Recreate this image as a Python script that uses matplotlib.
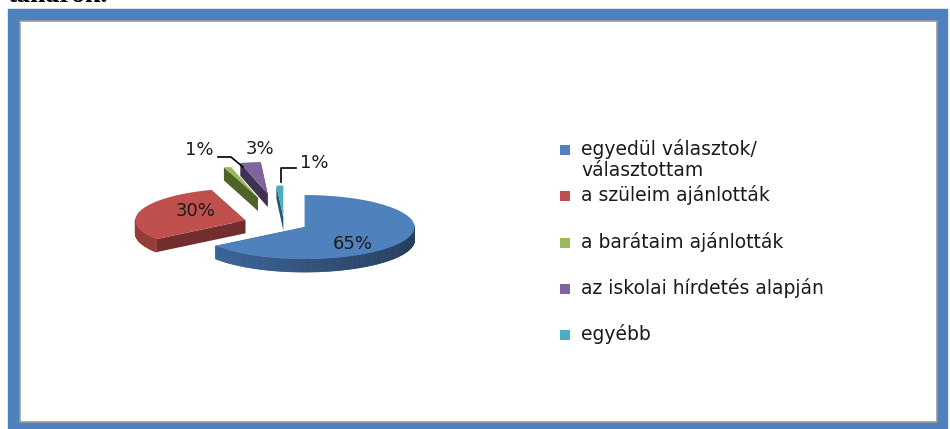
import numpy as np
import matplotlib.pyplot as plt
from matplotlib.patches import Polygon, Rectangle

# data
labels = ['egyedül választok/\nválasztottam', 'a szüleim ajánlották',
          'a barátaim ajánlották', 'az iskolai hírdetés alapján', 'egyébb']
values = [65, 30, 1, 3, 1]
pct_text = ['65%', '30%', '1%', '3%', '1%']

# style
colors = ['#4F81BD', '#C0504D', '#9BBB59', '#8064A2', '#4BACC6']
walls = ['#2E4D74', '#722E2C', '#4F6228', '#3F3151', '#215968']
explode = [0.21, 0.37, 0.85, 0.95, 0.2]
label_pos = [(353, 244), (196, 211), (199, 150), (260, 149), (314, 163)]
leaders = {2: [(218, 157), (231, 157), (243, 167)],
           4: [(281, 182), (281, 168), (296, 168)]}
cx, cy, rx, ry, depth = 284, 224, 110, 32, 13

fig = plt.figure(figsize=(9.5, 4.29), dpi=100)
ax = fig.add_axes([0, 0, 1, 1])
ax.set_xlim(0, 950)
ax.set_ylim(429, 0)
ax.axis('off')

# frame
ax.add_patch(Rectangle((8, 9), 939, 425, color='#4F81BD', zorder=0))
ax.add_patch(Rectangle((20, 21), 917, 401, fc='white', ec='#9a9a9a', lw=1.2, zorder=1))
# caption of the page above, mostly cut off by the top edge
ax.text(7, 2, 'tanárok.', fontfamily='Liberation Serif', weight='bold',
        fontsize=20, va='baseline', zorder=1)


def shade(c, f):
    rgb = np.array(plt.matplotlib.colors.to_rgb(c))
    return tuple(np.clip(rgb * f, 0, 1))


cum = np.concatenate([[0], np.cumsum(values)]) / sum(values) * 360
slices = []
for i in range(len(values)):
    t1, t2 = 90 - cum[i], 90 - cum[i + 1]
    m = np.radians((t1 + t2) / 2)
    ax0 = cx + explode[i] * rx * np.cos(m)
    ay0 = cy - explode[i] * ry * np.sin(m)
    slices.append((ay0, i, ax0, t1, t2))

z = 2
for ay0, i, ax0, t1, t2 in sorted(slices):
    n = max(3, int(abs(t1 - t2)) + 2)
    ts = np.radians(np.linspace(t1, t2, n))
    xs = ax0 + rx * np.cos(ts)
    ys = ay0 - ry * np.sin(ts)
    # radial faces
    for k in (0, -1):
        quad = [(ax0, ay0), (xs[k], ys[k]), (xs[k], ys[k] + depth), (ax0, ay0 + depth)]
        ax.add_patch(Polygon(quad, closed=True, fc=walls[i], ec='none', zorder=z))
    z += 1
    # outer wall, front part only
    for k in range(n - 1):
        tm = (ts[k] + ts[k + 1]) / 2
        if np.sin(tm) > 0.05:
            continue
        f = min(1.35 - 0.55 * (np.cos(tm) + 1) / 2, 1.3)
        quad = [(xs[k], ys[k]), (xs[k + 1], ys[k + 1]),
                (xs[k + 1], ys[k + 1] + depth), (xs[k], ys[k] + depth)]
        ax.add_patch(Polygon(quad, closed=True, fc=shade(walls[i], f),
                             ec=shade(walls[i], f), lw=0.5, zorder=z))
    z += 1
    top = [(ax0, ay0)] + list(zip(xs, ys))
    ax.add_patch(Polygon(top, closed=True, fc=colors[i], ec='none', zorder=z))
    z += 1

# percentage labels and leader lines
for i, (lx, ly) in enumerate(label_pos):
    ax.text(lx, ly, pct_text[i], fontsize=13, color='#1a1a1a',
            ha='center', va='center', zorder=50)
    if i in leaders:
        px, py = zip(*leaders[i])
        ax.plot(px, py, color='black', lw=1.2, zorder=49)

# legend
leg_y = [150, 196, 243, 289, 335]
for i, lab in enumerate(labels):
    ax.add_patch(Rectangle((560, leg_y[i] - 5), 10, 10, fc=colors[i], ec='none', zorder=50))
    ax.text(581, leg_y[i] - 11, lab, fontsize=13.5, color='#1a1a1a',
            va='top', ha='left', linespacing=1.15, zorder=50)

fig.savefig('out.png', dpi=100)
